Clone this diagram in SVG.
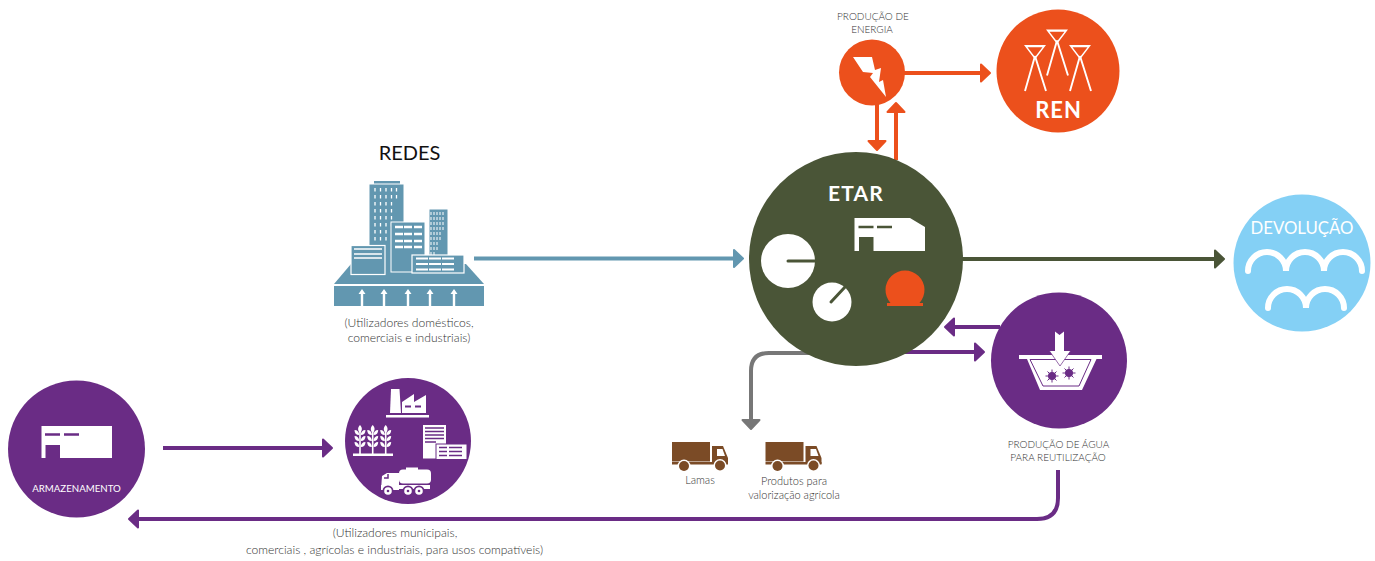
<svg xmlns="http://www.w3.org/2000/svg" width="1375" height="561" viewBox="0 0 1375 561">
<style>
text{font-family:"Lato","Open Sans","Liberation Sans",sans-serif;}
.lab{fill:#333;font-size:12.100px;font-weight:300;text-anchor:middle;}
.sm{font-size:11px;}
.cap{fill:#333;font-size:10px;font-weight:300;text-anchor:middle;}
.ln{fill:none;stroke-width:4;}
.w{fill:#fff;}
.pu{fill:#6a2c85;}
.bl{fill:#6297b0;}
.wl{fill:none;stroke:#fff;}
</style>
<defs>
<marker id="mOrange" markerUnits="userSpaceOnUse" markerWidth="14" markerHeight="22" refX="3" refY="10" orient="auto" overflow="visible"><path d="M0,1.5L9,10L0,18.500Z" fill="#ec501c" stroke="#ec501c" stroke-width="2" stroke-linejoin="round"/></marker>
<marker id="mPurple" markerUnits="userSpaceOnUse" markerWidth="14" markerHeight="22" refX="3" refY="10" orient="auto" overflow="visible"><path d="M0,1.5L9,10L0,18.500Z" fill="#6a2c85" stroke="#6a2c85" stroke-width="2" stroke-linejoin="round"/></marker>
<marker id="mBlue" markerUnits="userSpaceOnUse" markerWidth="14" markerHeight="22" refX="3" refY="10" orient="auto" overflow="visible"><path d="M0,1.5L9,10L0,18.500Z" fill="#6297b0" stroke="#6297b0" stroke-width="2" stroke-linejoin="round"/></marker>
<marker id="mGreen" markerUnits="userSpaceOnUse" markerWidth="14" markerHeight="22" refX="3" refY="10" orient="auto" overflow="visible"><path d="M0,1.5L9,10L0,18.500Z" fill="#4a5537" stroke="#4a5537" stroke-width="2" stroke-linejoin="round"/></marker>
<marker id="mGray" markerUnits="userSpaceOnUse" markerWidth="14" markerHeight="22" refX="3" refY="10" orient="auto" overflow="visible"><path d="M0,1.500L9,10L0,18.500Z" fill="#777" stroke="#777" stroke-width="2" stroke-linejoin="round"/></marker>
<g id="pylon"><path d="M-11,0H11L0,14.500Z M-7.500,2.300H7.500L0,12Z" fill="#fff" fill-rule="evenodd"/><path d="M0,11L-10,46M0,11L11,46" class="wl" stroke-width="1.900"/></g>
<g id="truck">
<rect x="672" y="442" width="38" height="19.500" fill="#7b4b26"/>
<path d="M712,446H723L728,458V464H712Z" fill="#7b4b26"/>
<path d="M717,449H722.500L725,456H717Z" fill="#fff"/>
<rect x="672" y="462" width="56" height="2.500" fill="#7b4b26"/>
<circle cx="684" cy="466" r="6.500" fill="#fff"/><circle cx="684" cy="466" r="5" fill="#7b4b26"/>
<circle cx="720" cy="465.500" r="6.500" fill="#fff"/><circle cx="720" cy="465.500" r="5" fill="#7b4b26"/>
</g>
<g id="star"><circle r="4" fill="#6a2c85"/><path d="M0,-6.500V6.500M-6.500,0H6.500M-4.500,-4.500L4.500,4.500M-4.500,4.500L4.500,-4.500" stroke="#6a2c85" stroke-width="1"/></g>
<g id="wheat"><path d="M0,-26V0" stroke="#fff" stroke-width="1.600" fill="none"/><path d="M0,-29C2.500,-26 2.500,-24 0,-21C-2.500,-24 -2.500,-26 0,-29ZM-.8,-19C-4,-19 -5.500,-21 -5.500,-24C-2.500,-24 -.8,-22 -.8,-19ZM.8,-19C4,-19 5.500,-21 5.500,-24C2.500,-24 .8,-22 .8,-19ZM-.8,-13C-4,-13 -5.500,-15 -5.500,-18C-2.500,-18 -.8,-16 -.8,-13ZM.8,-13C4,-13 5.500,-15 5.500,-18C2.500,-18 .8,-16 .8,-13ZM-.8,-7C-4,-7 -5.500,-9 -5.500,-12C-2.500,-12 -.8,-10 -.8,-7ZM.8,-7C4,-7 5.500,-9 5.500,-12C2.500,-12 .8,-10 .8,-7Z" fill="#fff"/></g>
</defs>

<g id="connectors">
<path class="ln" stroke="#6297b0" d="M474,258.500H737" marker-end="url(#mBlue)"/>
<path class="ln" stroke="#4a5537" d="M960,259H1218" marker-end="url(#mGreen)"/>
<path class="ln" stroke="#ec501c" d="M902,73H984" marker-end="url(#mOrange)"/>
<path class="ln" stroke="#ec501c" d="M877,103V144" marker-end="url(#mOrange)"/>
<path class="ln" stroke="#ec501c" d="M896,160V109" marker-end="url(#mOrange)"/>
<path class="ln" stroke="#6a2c85" d="M1000,327H951" marker-end="url(#mPurple)"/>
<path class="ln" stroke="#6a2c85" d="M900,352H978" marker-end="url(#mPurple)"/>
<path class="ln" stroke="#777" d="M810,353H769Q751,353 751,371V423" marker-end="url(#mGray)"/>
<path class="ln" stroke="#6a2c85" d="M1058,470V498Q1058,519 1037,519H135" marker-end="url(#mPurple)"/>
<path class="ln" stroke="#6a2c85" d="M163,448H326" marker-end="url(#mPurple)"/>
</g>

<g id="redes">
<text x="409.500" y="160" font-size="20" fill="#111" text-anchor="middle">REDES</text>
<rect class="bl" x="374" y="181" width="26" height="3"/>
<rect class="bl" x="369" y="184" width="35" height="90" stroke="#fff" stroke-width="1"/>
<path d="M375,188v56M380.500,188v56M386,188v56M391.500,188v42M396.500,188v14" stroke="#fff" stroke-width="1.300" stroke-dasharray="3.500 3.500" fill="none"/>
<rect class="bl" x="429" y="209" width="19" height="52" stroke="#fff" stroke-width="1"/>
<path d="M431,212V255M434,212V255M437,212V252M440,212V240M443,212V232" stroke="#fff" stroke-width="1" stroke-dasharray="3 2" fill="none"/>
<path class="bl" d="M334,284L351,264H466L484,284Z"/>
<rect class="bl" x="391" y="222" width="34" height="50" stroke="#fff" stroke-width="1"/>
<path d="M395,227h8M404,227h8M414,227h8M395,234h8M404,234h8M414,234h8M395,241h8M404,241h8M414,241h8M395,247h8M404,247h8M414,247h8" stroke="#fff" stroke-width="2.500"/>
<rect class="bl" x="351" y="245.500" width="34" height="29" stroke="#fff" stroke-width="1.200"/>
<path d="M354,249H382M354,254H382M354,258H382" stroke="#fff" stroke-width="1.400"/>
<rect class="bl" x="412" y="255" width="52" height="18" stroke="#fff" stroke-width="1.200"/>
<path d="M416,258.500h12M429,258.500h12M442,258.500h12M416,264h12M429,264h12M442,264h12M416,269.500h12M429,269.500h12M442,269.500h12" stroke="#fff" stroke-width="2"/>
<rect class="bl" x="334" y="286" width="150" height="20"/>
<g fill="#fff"><path d="M362,289l3.500,5h-2.300v12h-2.400v-12h-2.300Z"/><path d="M384,289l3.500,5h-2.300v12h-2.400v-12h-2.300Z"/><path d="M408,289l3.500,5h-2.300v12h-2.400v-12h-2.300Z"/><path d="M430,289l3.500,5h-2.300v12h-2.400v-12h-2.300Z"/><path d="M454,289l3.500,5h-2.300v12h-2.400v-12h-2.300Z"/></g>
<text class="lab" x="409" y="327">(Utilizadores domésticos,</text>
<text class="lab" x="409" y="342">comerciais e industriais)</text>
</g>

<g id="energia">
<circle cx="872" cy="72.500" r="33" fill="#ec501c"/>
<path class="w" d="M853,57L872,57L875,70L881,68L879,82L883,80L886,97L870,77L873,73L863,72Z"/>
<text class="cap" x="873" y="20">PRODUÇÃO DE</text>
<text class="cap" x="872" y="33">ENERGIA</text>
</g>

<g id="ren">
<circle cx="1058" cy="71" r="61.500" fill="#ec501c"/>
<use href="#pylon" x="1035" y="45"/>
<use href="#pylon" x="1057" y="29.500"/>
<use href="#pylon" x="1080" y="45"/>
<text x="1058.500" y="118" font-size="22" font-weight="700" letter-spacing="1" fill="#fff" text-anchor="middle">REN</text>
</g>

<g id="etar">
<circle cx="856" cy="259" r="107" fill="#4a5537"/>
<text x="856" y="201" font-size="21" font-weight="700" letter-spacing="1.200" fill="#fff" text-anchor="middle">ETAR</text>
<path class="w" d="M854.500,218H910L925,227V251H873.500V237H859V251H854.500Z"/>
<path d="M858.500,227h15M877,227h15" stroke="#4a5537" stroke-width="2.500"/>
<circle class="w" cx="788" cy="261" r="27"/>
<path d="M788,261H815" stroke="#4a5537" stroke-width="3" stroke-linecap="round"/>
<circle class="w" cx="832" cy="302" r="19.500"/>
<path d="M831,302L845,287" stroke="#4a5537" stroke-width="3" stroke-linecap="round"/>
<path d="M890.500,303A19.500,19.500 0 1 1 919.500,303H923V306H887V303Z" fill="#ec501c"/>
</g>

<g id="devolucao">
<circle cx="1302" cy="263" r="68.500" fill="#84d0f5"/>
<text x="1302" y="234" font-size="16.800" fill="#fff" text-anchor="middle">DEVOLUÇÃO</text>
<path class="wl" stroke-width="6" stroke-linecap="round" d="M1248,271A19,19 0 0 1 1286,271A19,19 0 0 1 1324,271A19,19 0 0 1 1362,271"/>
<path class="wl" stroke-width="6" stroke-linecap="round" d="M1268,308A19,19 0 0 1 1306,308A19,19 0 0 1 1344,308"/>
</g>

<g id="reutilizacao">
<circle class="pu" cx="1059" cy="360.500" r="68"/>
<path class="w" d="M1019,355H1102V359H1096.500L1082,390H1040L1027,359H1019Z"/>
<path d="M1030,359.500H1091L1079,386H1043L1030,359.500" fill="none" stroke="#6a2c85" stroke-width="1"/>
<path d="M1055,331.500L1059.500,335L1064,331.500V351H1070.500L1060,366L1049.500,351H1055Z" fill="#fff"/>
<path d="M1049.500,351L1060,366L1070.500,351" fill="none" stroke="#6a2c85" stroke-width="0.700"/>
<use href="#star" x="1052" y="376"/>
<use href="#star" x="1069" y="373"/>
<text class="cap" x="1058.500" y="447.500">PRODUÇÃO DE ÁGUA</text>
<text class="cap" x="1058" y="461">PARA REUTILIZAÇÃO</text>
</g>

<g id="armazenamento">
<circle class="pu" cx="76.500" cy="449" r="68.500"/>
<path class="w" d="M41.500,426H112V458H60V445H45.500V458H41.500Z"/>
<path d="M45,434.500h15M64,434.500h15" stroke="#6a2c85" stroke-width="2.500"/>
<text x="76.500" y="492" font-size="9.700" fill="#fff" text-anchor="middle">ARMAZENAMENTO</text>
</g>

<g id="utilizadores">
<circle class="pu" cx="408" cy="441" r="63"/>
<rect class="w" x="386" y="415" width="43" height="2.500"/>
<path class="w" d="M391,389H399.500L401,413H390Z"/>
<path class="w" d="M402,413V402L414,394V402L426,395V413Z"/>
<path d="M405,406.500h6M415,406.500h6" stroke="#6a2c85" stroke-width="2"/>
<use href="#wheat" x="360" y="454"/>
<use href="#wheat" x="372.700" y="454"/>
<use href="#wheat" x="385.700" y="454"/>
<rect class="w" x="353" y="453.500" width="40" height="2.500"/>
<rect class="w" x="423" y="425" width="23" height="33.500"/>
<path d="M425,428h19M425,431.500h19M425,435h19M425,438.500h19M425,442h11" stroke="#6a2c85" stroke-width="1.400"/>
<rect class="w" x="436" y="444" width="31" height="15.500" stroke="#6a2c85" stroke-width="1"/>
<path d="M439,447.500h8M449,447.500h13M439,451.500h8M449,451.500h13M439,455.500h8M449,455.500h13" stroke="#6a2c85" stroke-width="1.500"/>
<rect class="w" x="399" y="469.500" width="32" height="14" rx="4"/>
<rect class="w" x="406" y="467.500" width="12" height="3"/>
<path class="w" d="M382,476L387,473H399V490H381Z"/>
<path d="M384,478H388V474" fill="none" stroke="#6a2c85" stroke-width="1.500"/>
<rect class="w" x="381" y="485" width="49" height="4"/>
<g fill="#6a2c85"><circle cx="388" cy="491" r="5.500"/><circle cx="408" cy="491" r="5.500"/><circle cx="419" cy="491" r="5.500"/></g>
<g fill="#fff"><circle cx="388" cy="491" r="3.800"/><circle cx="408" cy="491" r="3.800"/><circle cx="419" cy="491" r="3.800"/></g>
<g fill="#6a2c85"><circle cx="388" cy="491" r="1.300"/><circle cx="408" cy="491" r="1.300"/><circle cx="419" cy="491" r="1.300"/></g>
</g>

<g id="lamas">
<use href="#truck"/>
<text class="lab sm" x="700" y="484">Lamas</text>
</g>
<g id="produtos">
<use href="#truck" x="93.500"/>
<text class="lab sm" x="794" y="485">Produtos para</text>
<text class="lab sm" x="794" y="499">valorização agrícola</text>
</g>
<g id="nota">
<text class="lab" x="395" y="537">(Utilizadores municipais,</text>
<text class="lab" x="394.500" y="554">comerciais , agrícolas e industriais, para usos compatíveis)</text>
</g>
</svg>
